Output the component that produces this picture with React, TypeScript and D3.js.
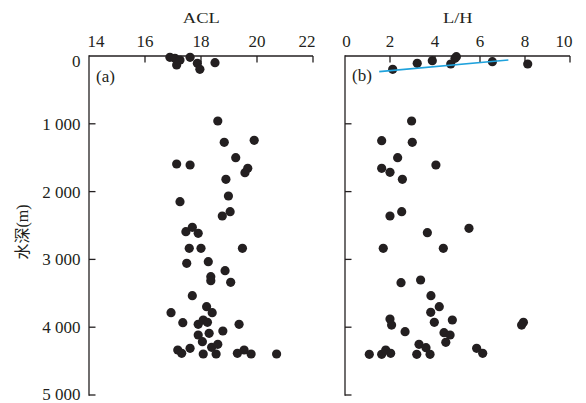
import React from "react";
import * as d3 from "d3";

const aclValues = [16.89, 17.07, 17.25, 17.13, 17.61, 17.87, 17.96, 18.5,
  18.6, 18.83, 19.9, 19.24, 17.13, 17.61, 19.67, 19.57, 18.89, 18.98, 17.25, 19.04, 18.76,
  17.46, 17.69, 17.9, 17.58, 18.0, 19.48, 17.49, 18.26, 18.86, 18.35, 18.35, 19.06,
  17.69, 18.2, 18.4, 16.93, 17.35, 17.9, 18.08, 18.23, 19.36, 17.9, 18.29, 18.78,
  18.05, 18.38, 18.6, 17.17, 17.31, 17.61, 18.08, 18.54, 19.3, 19.54, 19.79, 20.7];
const aclDepths = [19, 34, 59, 133, 19, 108, 196, 99,
  959, 1273, 1244, 1500, 1593, 1608, 1657, 1721, 1819, 2065, 2149, 2296, 2360,
  2591, 2527, 2615, 2837, 2837, 2837, 3058, 3033, 3166, 3255, 3314, 3338,
  3535, 3697, 3786, 3786, 3933, 3957, 3894, 3928, 3957, 4115, 4090, 4056,
  4214, 4297, 4252, 4336, 4385, 4311, 4395, 4395, 4385, 4336, 4395, 4395];

const lhValues = [2.12, 3.21, 3.88, 4.7, 4.89, 4.95, 6.55, 8.12,
  2.96, 1.63, 2.99, 2.34, 1.63, 2.0, 4.04, 2.55, 2.0, 2.52,
  5.51, 3.66, 1.7, 4.37, 2.49, 3.36, 3.82, 4.19, 3.81, 2.0, 2.07, 3.97, 4.77, 7.93, 7.85,
  2.67, 4.4, 4.67, 4.48, 3.29, 3.6, 3.78, 3.19, 1.08, 1.63, 1.81, 2.03, 5.85, 6.12];
const lhDepths = [196, 108, 69, 118, 34, 10, 84, 118,
  959, 1249, 1273, 1500, 1657, 1716, 1608, 1819, 2360, 2296,
  2542, 2606, 2837, 2837, 3343, 3304, 3535, 3697, 3781, 3879, 3968, 3928, 3894, 3928, 3968,
  4066, 4081, 4115, 4223, 4252, 4302, 4400, 4400, 4400, 4400, 4336, 4385, 4311, 4385];

const trendLH = [1.52, 7.26];
const trendDepth = [231, 59];

const aclTicks = [14, 16, 18, 20, 22];
const lhTicks = [0, 2, 4, 6, 8, 10];
const depthTicks = [0, 1000, 2000, 3000, 4000, 5000];
const depthTickLabels = ["0", "1 000", "2 000", "3 000", "4 000", "5 000"];

const serif = "\"Liberation Serif\", \"Times New Roman\", Times, serif";
const cjk = "\"Liberation Serif\", \"Noto Sans CJK SC\", serif";
const ink = "#231f20";

export default function App() {
  const y = d3.scaleLinear().domain([0, 5000]).range([56, 395]);
  const xL = d3.scaleLinear().domain([14, 22]).range([89, 313]);
  const xR = d3.scaleLinear().domain([0, 10]).range([345, 570]);
  const r = 4.6;
  const trendPath = d3.line<number>()
    .x((_, i) => xR(trendLH[i]))
    .y((_, i) => y(trendDepth[i]))(trendLH) || "";

  const tStyle = (size: number) => ({ fontFamily: serif, fontSize: size + "px" });

  const topAxis = (x: d3.ScaleLinear<number, number>, ticks: number[], isLeft: boolean) => {
    const [a, b] = x.range();
    return (
      <g>
        <line x1={a} x2={b} y1={y(0)} y2={y(0)} stroke={ink} strokeWidth={1.3} />
        {ticks.map((t, i) => {
          const px = x(t);
          const first = i === 0;
          const last = i === ticks.length - 1;
          let anchor: "start" | "middle" | "end" = "middle";
          let lx = px;
          if (isLeft && first) { anchor = "start"; lx = px - 1.5; }
          if (last) { anchor = "end"; lx = px + 2.5; }
          if (!isLeft && first) { lx = px + 1.5; }
          return (
            <g key={t}>
              {!first && <line x1={px} x2={px} y1={y(0)} y2={y(0) + 6.5} stroke={ink} strokeWidth={1.3} />}
              <text x={lx} y={46.5} style={tStyle(17)} textAnchor={anchor} fill={ink}>{t}</text>
            </g>
          );
        })}
      </g>
    );
  };

  const leftAxis = (x0: number, labels: boolean) => (
    <g>
      <line x1={x0} x2={x0} y1={y(0) - 0.65} y2={y(5000) + 0.65} stroke={ink} strokeWidth={1.3} />
      {depthTicks.map((t, i) => (
        <g key={t}>
          {i > 0 && <line x1={x0} x2={x0 + 6.5} y1={y(t)} y2={y(t)} stroke={ink} strokeWidth={1.3} />}
          {labels && (
            <text x={80.5} y={y(t) + (i === 0 ? 10.5 : i === depthTicks.length - 1 ? 5 : 6)} style={tStyle(17)} textAnchor="end" fill={ink}>
              {depthTickLabels[i]}
            </text>
          )}
        </g>
      ))}
    </g>
  );

  return (
    <svg width={586} height={403} style={{ position: "absolute", left: 0, top: 0, background: "#fff" }}>
      <rect width={586} height={403} fill="#fff" />
      <text x={201.3} y={22.7} style={tStyle(14)} textAnchor="middle" fill={ink}
        textLength={37} lengthAdjust="spacingAndGlyphs">ACL</text>
      <text x={457.8} y={22.7} style={tStyle(14)} textAnchor="middle" fill={ink}
        textLength={29.7} lengthAdjust="spacingAndGlyphs">L/H</text>
      {topAxis(xL, aclTicks, true)}
      {topAxis(xR, lhTicks, false)}
      {leftAxis(89, true)}
      {leftAxis(345, false)}
      <text transform="translate(28,232) rotate(-90)" style={{ fontFamily: cjk, fontSize: "16px" }}
        textAnchor="middle" fill={ink}>水深(m)</text>
      <text x={96} y={82} style={tStyle(17)} fill={ink}>(a)</text>
      <text x={352} y={81} style={tStyle(17)} fill={ink}>(b)</text>
      {aclValues.map((v, i) => (
        <circle key={"a" + i} cx={xL(v)} cy={y(aclDepths[i])} r={r} fill={ink} />
      ))}
      {lhValues.map((v, i) => (
        <circle key={"b" + i} cx={xR(v)} cy={y(lhDepths[i])} r={r} fill={ink} />
      ))}
      <path d={trendPath} stroke="#1fa2dc" strokeWidth={1.6} fill="none" />
    </svg>
  );
}
